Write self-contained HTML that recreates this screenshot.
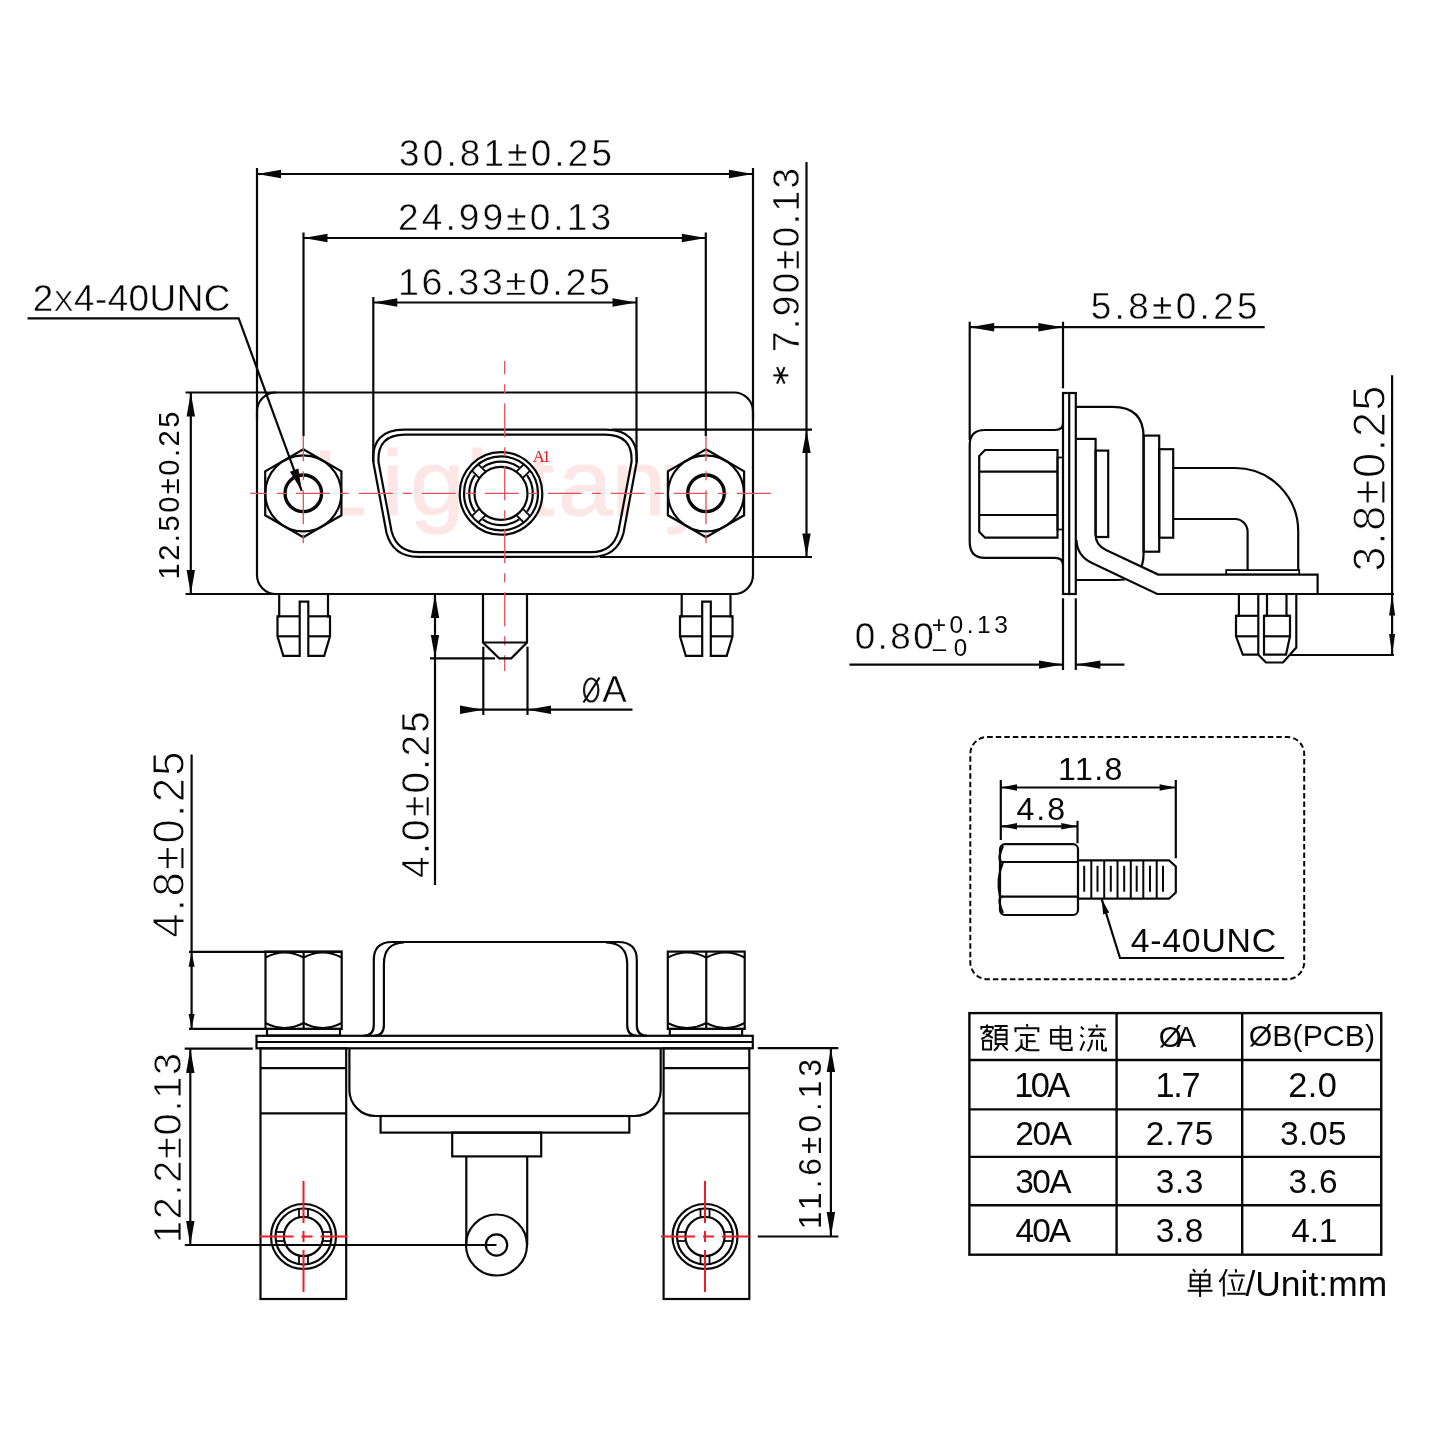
<!DOCTYPE html>
<html><head><meta charset="utf-8"><style>
html,body{margin:0;padding:0;background:#fff;}
svg{display:block;will-change:transform;}
</style></head><body>
<svg width="1440" height="1440" viewBox="0 0 1440 1440" stroke-linecap="butt">
<rect x="0" y="0" width="1440" height="1440" fill="#fff"/>
<text x="0" y="0" transform="translate(312.6 514.7) scale(1.05 1)" font-size="93" font-family="Liberation Sans" fill="#fde6e6" stroke="#fde6e6" stroke-width="1">L</text>
<text x="0" y="0" transform="translate(382 514.7) scale(1.05 1)" font-size="93" font-family="Liberation Sans" fill="#fde6e6" stroke="#fde6e6" stroke-width="1">i</text>
<text x="0" y="0" transform="translate(410 514.7) scale(1.05 1)" font-size="93" font-family="Liberation Sans" fill="#fde6e6" stroke="#fde6e6" stroke-width="1">g</text>
<text x="0" y="0" transform="translate(466 514.7) scale(1.05 1)" font-size="93" font-family="Liberation Sans" fill="#fde6e6" stroke="#fde6e6" stroke-width="1">h</text>
<text x="0" y="0" transform="translate(527 514.7) scale(1.05 1)" font-size="93" font-family="Liberation Sans" fill="#fde6e6" stroke="#fde6e6" stroke-width="1">t</text>
<text x="0" y="0" transform="translate(558 514.7) scale(1.05 1)" font-size="93" font-family="Liberation Sans" fill="#fde6e6" stroke="#fde6e6" stroke-width="1">a</text>
<text x="0" y="0" transform="translate(611.4 514.7) scale(1.05 1)" font-size="93" font-family="Liberation Sans" fill="#fde6e6" stroke="#fde6e6" stroke-width="1">n</text>
<text x="0" y="0" transform="translate(665 514.7) scale(1.05 1)" font-size="93" font-family="Liberation Sans" fill="#fde6e6" stroke="#fde6e6" stroke-width="1">y</text>
<line x1="257" y1="168" x2="257" y2="420" stroke="#080808" stroke-width="2.2" />
<line x1="753" y1="168" x2="753" y2="420" stroke="#080808" stroke-width="2.2" />
<line x1="257" y1="174" x2="753" y2="174" stroke="#080808" stroke-width="2.2" />
<polygon points="257,174 281,169.8 281,178.2" fill="#080808"/>
<polygon points="753,174 729,178.2 729,169.8" fill="#080808"/>
<text id="t3081" x="399" y="166" font-size="36.83" font-family="Liberation Sans" fill="#080808" font-weight="normal" textLength="213" lengthAdjust="spacing" stroke="#fff" stroke-width="0.45">30.81±0.25</text>
<line x1="303.5" y1="232.5" x2="303.5" y2="436" stroke="#080808" stroke-width="2.2" />
<line x1="705.8" y1="232.5" x2="705.8" y2="436" stroke="#080808" stroke-width="2.2" />
<line x1="303.5" y1="238" x2="705.8" y2="238" stroke="#080808" stroke-width="2.2" />
<polygon points="303.5,238 327.5,233.8 327.5,242.2" fill="#080808"/>
<polygon points="705.8,238 681.8,242.2 681.8,233.8" fill="#080808"/>
<text id="t2499" x="398" y="230" font-size="37" font-family="Liberation Sans" fill="#080808" font-weight="normal" textLength="213" lengthAdjust="spacing" stroke="#fff" stroke-width="0.46">24.99±0.13</text>
<line x1="373.3" y1="297" x2="373.3" y2="462" stroke="#080808" stroke-width="2.2" />
<line x1="636.5" y1="297" x2="636.5" y2="462" stroke="#080808" stroke-width="2.2" />
<line x1="373.3" y1="302.5" x2="636.5" y2="302.5" stroke="#080808" stroke-width="2.2" />
<polygon points="373.3,302.5 397.3,298.3 397.3,306.7" fill="#080808"/>
<polygon points="636.5,302.5 612.5,306.7 612.5,298.3" fill="#080808"/>
<text id="t1633" x="398" y="295" font-size="37.78" font-family="Liberation Sans" fill="#080808" font-weight="normal" textLength="212" lengthAdjust="spacing" stroke="#fff" stroke-width="0.52">16.33±0.25</text>
<text id="t2x4" x="32.8" y="310.7" font-size="36.83" font-family="Liberation Sans" fill="#080808" font-weight="normal" textLength="197.6" lengthAdjust="spacing" stroke="#fff" stroke-width="0.45">2<tspan font-size="80%">X</tspan>4-40UNC</text>
<rect x="257" y="392.5" width="496" height="201.5" rx="19" stroke="#080808" stroke-width="2.2" fill="none" />
<line x1="185.5" y1="392.5" x2="276" y2="392.5" stroke="#080808" stroke-width="2.2" />
<line x1="185.5" y1="594" x2="276" y2="594" stroke="#080808" stroke-width="2.2" />
<line x1="190.8" y1="392.5" x2="190.8" y2="594" stroke="#080808" stroke-width="2.2" />
<polygon points="190.8,392.5 195,416.5 186.6,416.5" fill="#080808"/>
<polygon points="190.8,594 186.6,570 195,570" fill="#080808"/>
<text id="t1250" x="179" y="579.5" font-size="29.13" font-family="Liberation Sans" fill="#080808" font-weight="normal" textLength="168" lengthAdjust="spacing" transform="rotate(-90 179 579.5)">12.50±0.25</text>
<path d="M373.3,462 Q371,430 404,429.7 H606 Q639,430 636.7,462 L623.5,533 Q617,556.8 592,556.8 H418 Q393,556.8 386.5,533 Z" stroke="#080808" stroke-width="2.2" fill="none" />
<path d="M378.5,462 Q377,434.6 405,434.6 H605 Q633,434.6 631.5,462 L618.5,531 Q613,552.2 591,552.2 H419 Q397,552.2 391.5,531 Z" stroke="#080808" stroke-width="2.2" fill="none" />
<line x1="612" y1="429.7" x2="812" y2="429.7" stroke="#080808" stroke-width="2.2" />
<line x1="600" y1="557" x2="812" y2="557" stroke="#080808" stroke-width="2.2" />
<line x1="806.5" y1="162" x2="806.5" y2="557" stroke="#080808" stroke-width="2.2" />
<polygon points="806.5,430 810.7,453 802.3,453" fill="#080808"/>
<polygon points="806.5,556.5 802.3,533.5 810.7,533.5" fill="#080808"/>
<text id="t790" x="798.5" y="352" font-size="36.84" font-family="Liberation Sans" fill="#080808" font-weight="normal" textLength="184" lengthAdjust="spacing" transform="rotate(-90 798.5 352)" stroke="#fff" stroke-width="0.45">7.90±0.13</text>
<line x1="773.3" y1="375.4" x2="788.3" y2="375.4" stroke="#080808" stroke-width="2" />
<line x1="777.05" y1="367.09" x2="784.55" y2="383.71" stroke="#080808" stroke-width="2" />
<line x1="784.55" y1="367.09" x2="777.05" y2="383.71" stroke="#080808" stroke-width="2" />
<polygon points="303.3,449.3 341.41,471.3 341.41,515.3 303.3,537.3 265.19,515.3 265.19,471.3" stroke="#080808" stroke-width="2.2" fill="#fff"/>
<circle cx="303.3" cy="493.3" r="38" stroke="#080808" stroke-width="2.2" fill="none" />
<circle cx="303.3" cy="493.3" r="18.3" stroke="#080808" stroke-width="3.4" fill="none" />
<polygon points="706,449.3 744.11,471.3 744.11,515.3 706,537.3 667.89,515.3 667.89,471.3" stroke="#080808" stroke-width="2.2" fill="#fff"/>
<circle cx="706" cy="493.3" r="38" stroke="#080808" stroke-width="2.2" fill="none" />
<circle cx="706" cy="493.3" r="18.3" stroke="#080808" stroke-width="3.4" fill="none" />
<path d="M27.5,318.3 H238.7 L301.7,490.8" stroke="#080808" stroke-width="2.2" fill="none" />
<polygon points="301.7,490.8 289.92,471.67 298.38,468.59" fill="#080808"/>
<circle cx="501" cy="493.4" r="41.3" stroke="#080808" stroke-width="2.2" fill="#fff" />
<circle cx="501" cy="493.4" r="37" stroke="#080808" stroke-width="2.2" fill="none" />
<circle cx="501" cy="493.4" r="26.5" stroke="#080808" stroke-width="2.2" fill="none" />
<path d="M527.05,475.16 A31.8,31.8 0 0 1 527.05,511.64" stroke="#080808" stroke-width="2.2" fill="none" />
<path d="M519.24,519.45 A31.8,31.8 0 0 1 482.76,519.45" stroke="#080808" stroke-width="2.2" fill="none" />
<path d="M474.95,511.64 A31.8,31.8 0 0 1 474.95,475.16" stroke="#080808" stroke-width="2.2" fill="none" />
<path d="M482.76,467.35 A31.8,31.8 0 0 1 519.24,467.35" stroke="#080808" stroke-width="2.2" fill="none" />
<line x1="522.92" y1="508.96" x2="530.34" y2="516.38" stroke="#080808" stroke-width="1.8" />
<line x1="516.56" y1="515.32" x2="523.98" y2="522.74" stroke="#080808" stroke-width="1.8" />
<line x1="485.44" y1="515.32" x2="478.02" y2="522.74" stroke="#080808" stroke-width="1.8" />
<line x1="479.08" y1="508.96" x2="471.66" y2="516.38" stroke="#080808" stroke-width="1.8" />
<line x1="479.08" y1="477.84" x2="471.66" y2="470.42" stroke="#080808" stroke-width="1.8" />
<line x1="485.44" y1="471.48" x2="478.02" y2="464.06" stroke="#080808" stroke-width="1.8" />
<line x1="516.56" y1="471.48" x2="523.98" y2="464.06" stroke="#080808" stroke-width="1.8" />
<line x1="522.92" y1="477.84" x2="530.34" y2="470.42" stroke="#080808" stroke-width="1.8" />
<text id="tA1" x="532.8" y="462.4" font-size="16.79" font-family="Liberation Serif" fill="#e8202a" font-weight="normal" textLength="17.8" lengthAdjust="spacing">A1</text>
<line x1="250" y1="493.3" x2="776" y2="493.3" stroke="#e2525e" stroke-width="1.3" stroke-dasharray="34,10,9,10" stroke-dashoffset="-45.80"/>
<line x1="303.3" y1="436" x2="303.3" y2="552" stroke="#e2525e" stroke-width="1.3" stroke-dasharray="34,10,9,10" stroke-dashoffset="-54.20"/>
<line x1="706" y1="436" x2="706" y2="552" stroke="#e2525e" stroke-width="1.3" stroke-dasharray="34,10,9,10" stroke-dashoffset="-54.20"/>
<line x1="504.7" y1="361" x2="504.7" y2="671" stroke="#e2525e" stroke-width="1.3" stroke-dasharray="34,10,9,10" stroke-dashoffset="-42.20"/>
<path d="M279.2,594 V616.3 H277.5 V636.3 L283.3,655.8 H299.7 V601.7 H308.3 V655.8 H324.2 L330,636.3 V616.3 H328 V594" stroke="#080808" stroke-width="2.2" fill="none" />
<line x1="277.5" y1="616.3" x2="299.7" y2="616.3" stroke="#080808" stroke-width="2.2" />
<line x1="308.3" y1="616.3" x2="330" y2="616.3" stroke="#080808" stroke-width="2.2" />
<line x1="277.5" y1="636.3" x2="299.7" y2="636.3" stroke="#080808" stroke-width="2.2" />
<line x1="308.3" y1="636.3" x2="330" y2="636.3" stroke="#080808" stroke-width="2.2" />
<path d="M681.7,594 V616.3 H680 V636.3 L685.8,655.8 H702.2 V601.7 H710.8 V655.8 H726.7 L732.5,636.3 V616.3 H730.5 V594" stroke="#080808" stroke-width="2.2" fill="none" />
<line x1="680" y1="616.3" x2="702.2" y2="616.3" stroke="#080808" stroke-width="2.2" />
<line x1="710.8" y1="616.3" x2="732.5" y2="616.3" stroke="#080808" stroke-width="2.2" />
<line x1="680" y1="636.3" x2="702.2" y2="636.3" stroke="#080808" stroke-width="2.2" />
<line x1="710.8" y1="636.3" x2="732.5" y2="636.3" stroke="#080808" stroke-width="2.2" />
<path d="M483,594 V642.5 L499.2,658.3 H511.3 L527,642.5 V594" stroke="#080808" stroke-width="2.2" fill="none" />
<line x1="483" y1="642.5" x2="527" y2="642.5" stroke="#080808" stroke-width="2.2" />
<line x1="435" y1="594" x2="435" y2="885" stroke="#080808" stroke-width="2.2" />
<polygon points="435,594.5 439.2,618 430.8,618" fill="#080808"/>
<polygon points="435,657.8 430.8,635 439.2,635" fill="#080808"/>
<line x1="430" y1="658.3" x2="495" y2="658.3" stroke="#080808" stroke-width="2.2" />
<text id="t40" x="429.1" y="877.9" font-size="38.57" font-family="Liberation Sans" fill="#080808" font-weight="normal" textLength="166.6" lengthAdjust="spacing" transform="rotate(-90 429.1 877.9)" stroke="#fff" stroke-width="0.58">4.0±0.25</text>
<line x1="483.3" y1="646.7" x2="483.3" y2="715" stroke="#080808" stroke-width="2.2" />
<line x1="527.5" y1="646.7" x2="527.5" y2="715" stroke="#080808" stroke-width="2.2" />
<line x1="460" y1="709.7" x2="632.5" y2="709.7" stroke="#080808" stroke-width="2.2" />
<polygon points="483.3,709.7 460,713.9 460,705.5" fill="#080808"/>
<polygon points="527.5,709.7 551,705.5 551,713.9" fill="#080808"/>
<text id="tphiA" x="602.3" y="701.5" font-size="36.83" font-family="Liberation Sans" fill="#080808" font-weight="normal" stroke="#fff" stroke-width="0.45">A</text>
<ellipse cx="591.2" cy="690" rx="7.2" ry="11.5" stroke="#1a1a1a" stroke-width="2.2" fill="none"/>
<line x1="583.5" y1="702.5" x2="599.5" y2="677.5" stroke="#080808" stroke-width="2.2" />
<line x1="969.7" y1="321.7" x2="969.7" y2="440" stroke="#080808" stroke-width="2.2" />
<line x1="969.7" y1="327.2" x2="1264.7" y2="327.2" stroke="#080808" stroke-width="2.2" />
<polygon points="969.7,327.2 994.2,323 994.2,331.4" fill="#080808"/>
<polygon points="1062.8,327.2 1038.3,331.4 1038.3,323" fill="#080808"/>
<line x1="1063" y1="321.7" x2="1063" y2="388.3" stroke="#080808" stroke-width="2.2" />
<text id="t58" x="1090.7" y="319.2" font-size="36.83" font-family="Liberation Sans" fill="#080808" font-weight="normal" textLength="166.8" lengthAdjust="spacing" stroke="#fff" stroke-width="0.45">5.8±0.25</text>
<rect x="1063" y="393" width="12.8" height="201" rx="0" stroke="#080808" stroke-width="2.2" fill="none" />
<line x1="1069.2" y1="393" x2="1069.2" y2="594" stroke="#080808" stroke-width="2.2" />
<path d="M1063,423 Q1063,430 1055,430 H985 Q969.7,430 969.7,445 V542 Q969.7,557.9 985,557.9 H1055 Q1063,557.9 1063,565" stroke="#080808" stroke-width="2.2" fill="none" />
<path d="M979.2,456 L985,450 H1057.5 V537.7 H985 L979.2,531.7 Z" stroke="#080808" stroke-width="2.2" fill="none" />
<line x1="979.2" y1="471.7" x2="1057.5" y2="471.7" stroke="#080808" stroke-width="2.2" />
<line x1="979.2" y1="515" x2="1057.5" y2="515" stroke="#080808" stroke-width="2.2" />
<rect x="1057.5" y="457.5" width="5.5" height="72" rx="0" stroke="#080808" stroke-width="1.8" fill="none" />
<path d="M1075.8,406.8 H1112.5 Q1143.6,406.8 1143.6,437 V553.6 Q1143.6,580 1118,580 H1076" stroke="#080808" stroke-width="2.2" fill="none" />
<path d="M1076.5,438.9 H1095.6 V537" stroke="#080808" stroke-width="2.2" fill="none" />
<rect x="1095.6" y="450.6" width="12.6" height="86.4" rx="0" stroke="#080808" stroke-width="2.2" fill="none" />
<rect x="1143.6" y="435.6" width="15.6" height="116.1" rx="0" stroke="#080808" stroke-width="2.2" fill="none" />
<rect x="1159.2" y="449.2" width="14" height="88.5" rx="0" stroke="#080808" stroke-width="2.2" fill="none" />
<path d="M1173.2,468 H1235 A63.2,63.2 0 0 1 1298.2,531.2 V570" stroke="#080808" stroke-width="2.2" fill="none" />
<path d="M1173.2,519 H1235 A12.6,12.6 0 0 1 1247.6,531.6 V570" stroke="#080808" stroke-width="2.2" fill="none" />
<rect x="1226.2" y="570.1" width="73" height="4.5" rx="0" stroke="#080808" stroke-width="1.8" fill="none" />
<path d="M1076.5,540 Q1077,556 1092,563 L1157.2,594 H1317.6 V574.6 H1158.2 L1106,550 Q1095.6,545 1095.6,535" stroke="#080808" stroke-width="2.2" fill="#fff" />
<path d="M1238.9,594 V615.8 H1236 V636.3 L1242.8,654.7 H1258.3 V594" stroke="#080808" stroke-width="2.2" fill="none" />
<line x1="1236" y1="615.8" x2="1258.3" y2="615.8" stroke="#080808" stroke-width="2.2" />
<line x1="1236" y1="636.3" x2="1258.3" y2="636.3" stroke="#080808" stroke-width="2.2" />
<path d="M1267,594 V615.8 H1264 V636.3 V654.7 H1286 L1290,636.3 V615.8 H1286.5 V594" stroke="#080808" stroke-width="2.2" fill="none" />
<line x1="1264" y1="615.8" x2="1290" y2="615.8" stroke="#080808" stroke-width="2.2" />
<line x1="1264" y1="636.3" x2="1290" y2="636.3" stroke="#080808" stroke-width="2.2" />
<path d="M1258.3,654.7 L1266,662.5 H1283 L1296.3,647.5 V594" stroke="#080808" stroke-width="2.2" fill="none" />
<line x1="1317.6" y1="594" x2="1394" y2="594" stroke="#080808" stroke-width="2.2" />
<line x1="1289.7" y1="655" x2="1394" y2="655" stroke="#080808" stroke-width="2.2" />
<line x1="1392.1" y1="375.2" x2="1392.1" y2="655" stroke="#080808" stroke-width="2.2" />
<polygon points="1392.1,594 1395.1,615.4 1389.1,615.4" fill="#080808"/>
<polygon points="1392.1,655 1389.1,633.9 1395.1,633.9" fill="#080808"/>
<text id="t38" x="1385.1" y="571.8" font-size="45.38" font-family="Liberation Sans" fill="#080808" font-weight="normal" textLength="186.4" lengthAdjust="spacing" transform="rotate(-90 1385.1 571.8)" stroke="#fff" stroke-width="1.09">3.8±0.25</text>
<line x1="1063" y1="598.3" x2="1063" y2="670" stroke="#080808" stroke-width="2.2" />
<line x1="1075.8" y1="598.3" x2="1075.8" y2="670" stroke="#080808" stroke-width="2.2" />
<line x1="849.4" y1="664.6" x2="1063" y2="664.6" stroke="#080808" stroke-width="2.2" />
<polygon points="1063,664.6 1039,668.8 1039,660.4" fill="#080808"/>
<line x1="1075.8" y1="664.6" x2="1124.4" y2="664.6" stroke="#080808" stroke-width="2.2" />
<polygon points="1075.8,664.6 1100.4,660.4 1100.4,668.8" fill="#080808"/>
<text id="t080" x="854.7" y="648.6" font-size="36.83" font-family="Liberation Sans" fill="#080808" font-weight="normal" textLength="79" lengthAdjust="spacing" stroke="#fff" stroke-width="0.45">0.80</text>
<text id="tp013" x="931.75" y="633.3" font-size="24.59" font-family="Liberation Sans" fill="#080808" font-weight="normal" textLength="76.1" lengthAdjust="spacing">+0.13</text>
<text id="tm0" x="932.75" y="656.4" font-size="24.14" font-family="Liberation Sans" fill="#080808" font-weight="normal" textLength="34.5" lengthAdjust="spacing">–0</text>
<rect x="970.3" y="737" width="333.9" height="242.2" rx="17" stroke="#080808" stroke-width="2" fill="none" stroke-dasharray="5.5,3"/>
<line x1="1000.8" y1="780" x2="1000.8" y2="840" stroke="#080808" stroke-width="2.2" />
<line x1="1175.8" y1="780" x2="1175.8" y2="858.3" stroke="#080808" stroke-width="2.2" />
<line x1="1077.5" y1="820.8" x2="1077.5" y2="843.3" stroke="#080808" stroke-width="2.2" />
<line x1="1000.8" y1="787.5" x2="1175.8" y2="787.5" stroke="#080808" stroke-width="2.2" />
<polygon points="1000.8,787.5 1017,784.3 1017,790.7" fill="#080808"/>
<polygon points="1175.8,787.5 1159.6,790.7 1159.6,784.3" fill="#080808"/>
<line x1="1000.8" y1="826.3" x2="1077.5" y2="826.3" stroke="#080808" stroke-width="2.2" />
<polygon points="1000.8,826.3 1017,823.1 1017,829.5" fill="#080808"/>
<polygon points="1077.5,826.3 1061.3,829.5 1061.3,823.1" fill="#080808"/>
<text id="t118" x="1058" y="779.5" font-size="32.09" font-family="Liberation Sans" fill="#080808" font-weight="normal" textLength="64.4" lengthAdjust="spacing">11.8</text>
<text id="t48s" x="1016.5" y="820.3" font-size="32.09" font-family="Liberation Sans" fill="#080808" font-weight="normal" textLength="48.6" lengthAdjust="spacing">4.8</text>
<rect x="1000" y="844.2" width="78" height="70.8" rx="5" stroke="#080808" stroke-width="2.2" fill="none" />
<line x1="1000" y1="862" x2="1078" y2="862" stroke="#080808" stroke-width="2.2" />
<line x1="1000" y1="896.7" x2="1078" y2="896.7" stroke="#080808" stroke-width="2.2" />
<path d="M1003,846 Q996,862 1003,862 Q996,879 1000,896.7 M1003,913 Q996,897 1003,896.7" stroke="#080808" stroke-width="2.2" fill="none" />
<path d="M1078,860.3 H1169 L1175.8,866.5 V892.5 L1169,898.7 H1078" stroke="#080808" stroke-width="2.2" fill="none" />
<line x1="1091.3" y1="860.3" x2="1091.3" y2="898.7" stroke="#080808" stroke-width="2" />
<line x1="1104.2" y1="860.3" x2="1104.2" y2="898.7" stroke="#080808" stroke-width="2" />
<line x1="1117.5" y1="860.3" x2="1117.5" y2="898.7" stroke="#080808" stroke-width="2" />
<line x1="1130.8" y1="860.3" x2="1130.8" y2="898.7" stroke="#080808" stroke-width="2" />
<line x1="1143.3" y1="860.3" x2="1143.3" y2="898.7" stroke="#080808" stroke-width="2" />
<line x1="1156.7" y1="860.3" x2="1156.7" y2="898.7" stroke="#080808" stroke-width="2" />
<line x1="1084.2" y1="865.8" x2="1084.2" y2="891.7" stroke="#080808" stroke-width="2" />
<line x1="1097.5" y1="865.8" x2="1097.5" y2="891.7" stroke="#080808" stroke-width="2" />
<line x1="1110.8" y1="865.8" x2="1110.8" y2="891.7" stroke="#080808" stroke-width="2" />
<line x1="1124.2" y1="865.8" x2="1124.2" y2="891.7" stroke="#080808" stroke-width="2" />
<line x1="1136.7" y1="865.8" x2="1136.7" y2="891.7" stroke="#080808" stroke-width="2" />
<line x1="1150" y1="865.8" x2="1150" y2="891.7" stroke="#080808" stroke-width="2" />
<line x1="1163" y1="865.8" x2="1163" y2="891.7" stroke="#080808" stroke-width="2" />
<path d="M1101.7,899.2 L1120,958 H1284.2" stroke="#080808" stroke-width="2.2" fill="none" />
<polygon points="1101.7,899.2 1109.25,912.54 1103.15,914.46" fill="#080808"/>
<text id="t440" x="1130.7" y="951.5" font-size="33.75" font-family="Liberation Sans" fill="#080808" font-weight="normal" textLength="145.4" lengthAdjust="spacing">4-40UNC</text>
<rect x="969.4" y="1013.1" width="411.85" height="241.6" rx="0" stroke="#080808" stroke-width="2.4" fill="none" />
<line x1="969.4" y1="1060" x2="1381.25" y2="1060" stroke="#080808" stroke-width="2.4" />
<line x1="969.4" y1="1109.4" x2="1381.25" y2="1109.4" stroke="#080808" stroke-width="2.4" />
<line x1="969.4" y1="1156.9" x2="1381.25" y2="1156.9" stroke="#080808" stroke-width="2.4" />
<line x1="969.4" y1="1205.3" x2="1381.25" y2="1205.3" stroke="#080808" stroke-width="2.4" />
<line x1="1116.6" y1="1013.1" x2="1116.6" y2="1254.7" stroke="#080808" stroke-width="2.4" />
<line x1="1242.2" y1="1013.1" x2="1242.2" y2="1254.7" stroke="#080808" stroke-width="2.4" />
<text id="r0a" x="1014.2" y="1097.1" font-size="34.35" font-family="Liberation Sans" fill="#080808" font-weight="normal" textLength="56" lengthAdjust="spacing">10A</text>
<text id="r0b" x="1155.4" y="1097.1" font-size="34.35" font-family="Liberation Sans" fill="#080808" font-weight="normal" textLength="45.2" lengthAdjust="spacing">1.7</text>
<text id="r0c" x="1288.3" y="1097.1" font-size="34.35" font-family="Liberation Sans" fill="#080808" font-weight="normal" textLength="48.6" lengthAdjust="spacing">2.0</text>
<text id="r1a" x="1015.2" y="1145" font-size="33.4" font-family="Liberation Sans" fill="#080808" font-weight="normal" textLength="56.8" lengthAdjust="spacing">20A</text>
<text id="r1b" x="1145.8" y="1145" font-size="33.4" font-family="Liberation Sans" fill="#080808" font-weight="normal" textLength="67.6" lengthAdjust="spacing">2.75</text>
<text id="r1c" x="1280" y="1145" font-size="33.4" font-family="Liberation Sans" fill="#080808" font-weight="normal" textLength="66.6" lengthAdjust="spacing">3.05</text>
<text id="r2a" x="1015.2" y="1192.5" font-size="33.4" font-family="Liberation Sans" fill="#080808" font-weight="normal" textLength="56.4" lengthAdjust="spacing">30A</text>
<text id="r2b" x="1155.8" y="1192.5" font-size="33.4" font-family="Liberation Sans" fill="#080808" font-weight="normal" textLength="47.6" lengthAdjust="spacing">3.3</text>
<text id="r2c" x="1288.6" y="1192.5" font-size="33.4" font-family="Liberation Sans" fill="#080808" font-weight="normal" textLength="49" lengthAdjust="spacing">3.6</text>
<text id="r3a" x="1015.6" y="1242" font-size="33.4" font-family="Liberation Sans" fill="#080808" font-weight="normal" textLength="55.4" lengthAdjust="spacing">40A</text>
<text id="r3b" x="1155.8" y="1242" font-size="33.4" font-family="Liberation Sans" fill="#080808" font-weight="normal" textLength="47.6" lengthAdjust="spacing">3.8</text>
<text id="r3c" x="1291.2" y="1242" font-size="33.4" font-family="Liberation Sans" fill="#080808" font-weight="normal" textLength="46.2" lengthAdjust="spacing">4.1</text>
<text id="hA" x="1158.8" y="1047" font-size="29.66" font-family="Liberation Sans" fill="#080808" font-weight="normal" textLength="37.2" lengthAdjust="spacing">ØA</text>
<text id="hB" x="1248.8" y="1045.5" font-size="30.25" font-family="Liberation Sans" fill="#080808" font-weight="normal" textLength="126.2" lengthAdjust="spacing">ØB(PCB)</text>
<text id="unit" x="1245.4" y="1296.4" font-size="35.4" font-family="Liberation Sans" fill="#080808" font-weight="normal" textLength="141.8" lengthAdjust="spacing">/Unit:mm</text>
<path d="M24,2 L28,10 M6,20 V11 H46 V20 M28,16 L12,36 M20,26 H40 Q30,44 6,54 M22,36 L46,50 M12,60 H40 V92 H12 Z M52,7 H98 M76,7 L70,22 M56,22 H94 V72 H56 Z M56,39 H94 M56,55 H94 M68,72 Q62,88 50,96 M80,76 L98,95" transform="translate(979.6 1024) scale(0.2870 0.2780)" stroke="#080808" stroke-width="2.0" fill="none" stroke-linecap="butt" stroke-linejoin="miter" vector-effect="non-scaling-stroke"/>
<path d="M50,0 L52,10 M8,30 V15 H92 V30 M24,40 H78 M50,40 V86 M50,62 H82 M30,55 V80 M33,72 Q24,90 8,98 M30,82 Q42,94 62,94 H96" transform="translate(1013.3 1024) scale(0.2720 0.2780)" stroke="#080808" stroke-width="2.0" fill="none" stroke-linecap="butt" stroke-linejoin="miter" vector-effect="non-scaling-stroke"/>
<path d="M12,20 H86 V70 H12 Z M12,45 H86 M49,3 V84 Q49,94 62,94 H92 V82" transform="translate(1048 1024.5) scale(0.2570 0.2700)" stroke="#080808" stroke-width="2.0" fill="none" stroke-linecap="butt" stroke-linejoin="miter" vector-effect="non-scaling-stroke"/>
<path d="M6,8 L16,18 M4,38 L14,46 M4,96 L18,62 M62,0 L64,10 M32,18 H96 M54,22 L40,42 L84,40 M74,30 L90,46 M46,56 Q44,84 30,98 M64,56 V94 M82,56 V88 Q82,95 90,95 H96 V84" transform="translate(1079.3 1024.5) scale(0.2770 0.2730)" stroke="#080808" stroke-width="2.0" fill="none" stroke-linecap="butt" stroke-linejoin="miter" vector-effect="non-scaling-stroke"/>
<path d="M24,2 L32,13 M74,2 L64,13 M15,22 H85 V62 H15 Z M15,42 H85 M50,22 V100 M4,78 H96" transform="translate(1186.6 1268.6) scale(0.2690 0.2840)" stroke="#080808" stroke-width="2.0" fill="none" stroke-linecap="butt" stroke-linejoin="miter" vector-effect="non-scaling-stroke"/>
<path d="M30,2 Q22,28 4,48 M20,30 V100 M62,2 L64,14 M36,25 H94 M48,38 L58,80 M86,36 L72,80 M32,90 H98" transform="translate(1218.2 1268.6) scale(0.2820 0.2790)" stroke="#080808" stroke-width="2.0" fill="none" stroke-linecap="butt" stroke-linejoin="miter" vector-effect="non-scaling-stroke"/>
<line x1="191.6" y1="754.4" x2="191.6" y2="1028.9" stroke="#080808" stroke-width="2.2" />
<polygon points="191.6,951.8 194.6,966.7 188.6,966.7" fill="#080808"/>
<polygon points="191.6,1028.9 188.6,1014 194.6,1014" fill="#080808"/>
<line x1="189" y1="951.8" x2="341.8" y2="951.8" stroke="#080808" stroke-width="2.2" />
<line x1="189" y1="1028.9" x2="265.6" y2="1028.9" stroke="#080808" stroke-width="2.2" />
<text id="t48" x="184.5" y="937.8" font-size="43.67" font-family="Liberation Sans" fill="#080808" font-weight="normal" textLength="186.4" lengthAdjust="spacing" transform="rotate(-90 184.5 937.8)" stroke="#fff" stroke-width="0.96">4.8±0.25</text>
<rect x="265.5" y="951.6" width="76.2" height="77.3" rx="0" stroke="#080808" stroke-width="2.2" fill="none" />
<line x1="303.6" y1="951.6" x2="303.6" y2="1028.9" stroke="#080808" stroke-width="2.2" />
<path d="M265.5,957.5 Q284.55,947.5 303.6,957.5" stroke="#080808" stroke-width="2" fill="none" />
<path d="M265.5,1023 Q284.55,1033 303.6,1023" stroke="#080808" stroke-width="2" fill="none" />
<path d="M303.6,957.5 Q322.65,947.5 341.7,957.5" stroke="#080808" stroke-width="2" fill="none" />
<path d="M303.6,1023 Q322.65,1033 341.7,1023" stroke="#080808" stroke-width="2" fill="none" />
<rect x="667.8" y="951.6" width="76.9" height="77.3" rx="0" stroke="#080808" stroke-width="2.2" fill="none" />
<line x1="706.25" y1="951.6" x2="706.25" y2="1028.9" stroke="#080808" stroke-width="2.2" />
<path d="M667.8,957.5 Q687.02,947.5 706.25,957.5" stroke="#080808" stroke-width="2" fill="none" />
<path d="M667.8,1023 Q687.02,1033 706.25,1023" stroke="#080808" stroke-width="2" fill="none" />
<path d="M706.25,957.5 Q725.48,947.5 744.7,957.5" stroke="#080808" stroke-width="2" fill="none" />
<path d="M706.25,1023 Q725.48,1033 744.7,1023" stroke="#080808" stroke-width="2" fill="none" />
<rect x="267" y="1028.9" width="73" height="6.6" rx="0" stroke="#080808" stroke-width="2.2" fill="none" />
<rect x="669.8" y="1028.9" width="72.3" height="6.6" rx="0" stroke="#080808" stroke-width="2.2" fill="none" />
<rect x="256.5" y="1035.8" width="496.3" height="12.5" rx="0" stroke="#080808" stroke-width="2.2" fill="none" />
<line x1="256.5" y1="1042" x2="752.8" y2="1042" stroke="#080808" stroke-width="2.2" />
<path d="M363.5,1035.8 Q373.8,1035.8 373.8,1025 V960 Q373.8,942 392,942 H618 Q636.8,942 636.8,960 V1025 Q636.8,1035.8 647,1035.8" stroke="#080808" stroke-width="2.2" fill="none" />
<path d="M374,1035.8 Q383.9,1035.8 383.9,1025 V964 Q383.9,943 404,942.5" stroke="#080808" stroke-width="2.2" fill="none" />
<path d="M606,942.5 Q627.2,943 627.2,964 V1025 Q627.2,1035.8 637,1035.8" stroke="#080808" stroke-width="2.2" fill="none" />
<path d="M349.4,1048.3 V1090 A26,26 0 0 0 375.4,1116 H634.7 A26,26 0 0 0 660.7,1090 V1048.3" stroke="#080808" stroke-width="2.2" fill="none" />
<rect x="380.6" y="1116" width="248.7" height="16.6" rx="0" stroke="#080808" stroke-width="2.2" fill="none" />
<rect x="452.2" y="1132.6" width="89" height="23.8" rx="0" stroke="#080808" stroke-width="2.2" fill="none" />
<line x1="466.3" y1="1156.4" x2="466.3" y2="1245" stroke="#080808" stroke-width="2.2" />
<line x1="527.2" y1="1156.4" x2="527.2" y2="1245" stroke="#080808" stroke-width="2.2" />
<circle cx="496.5" cy="1245" r="30.5" stroke="#080808" stroke-width="2.2" fill="none" />
<circle cx="496.5" cy="1245" r="10.7" stroke="#080808" stroke-width="2.2" fill="none" />
<line x1="184.7" y1="1245" x2="496.5" y2="1245" stroke="#080808" stroke-width="2.2" />
<rect x="260.5" y="1048.3" width="85.7" height="250.7" rx="0" stroke="#080808" stroke-width="2.2" fill="none" />
<line x1="260.5" y1="1068.2" x2="346.2" y2="1068.2" stroke="#080808" stroke-width="2.2" />
<line x1="260.5" y1="1113.3" x2="346.2" y2="1113.3" stroke="#080808" stroke-width="2.2" />
<rect x="663.6" y="1048.3" width="85.7" height="250.7" rx="0" stroke="#080808" stroke-width="2.2" fill="none" />
<line x1="663.6" y1="1068.2" x2="749.3" y2="1068.2" stroke="#080808" stroke-width="2.2" />
<line x1="663.6" y1="1113.3" x2="749.3" y2="1113.3" stroke="#080808" stroke-width="2.2" />
<circle cx="303.5" cy="1236.5" r="32.5" stroke="#080808" stroke-width="2.2" fill="none" />
<circle cx="303.5" cy="1236.5" r="28" stroke="#080808" stroke-width="2.2" fill="none" />
<circle cx="303.5" cy="1236.5" r="19.6" stroke="#080808" stroke-width="2.2" fill="none" />
<line x1="323.1" y1="1232" x2="331.5" y2="1232" stroke="#080808" stroke-width="1.8" />
<line x1="323.1" y1="1241" x2="331.5" y2="1241" stroke="#080808" stroke-width="1.8" />
<line x1="308" y1="1256.1" x2="308" y2="1264.5" stroke="#080808" stroke-width="1.8" />
<line x1="299" y1="1256.1" x2="299" y2="1264.5" stroke="#080808" stroke-width="1.8" />
<line x1="283.9" y1="1241" x2="275.5" y2="1241" stroke="#080808" stroke-width="1.8" />
<line x1="283.9" y1="1232" x2="275.5" y2="1232" stroke="#080808" stroke-width="1.8" />
<line x1="299" y1="1216.9" x2="299" y2="1208.5" stroke="#080808" stroke-width="1.8" />
<line x1="308" y1="1216.9" x2="308" y2="1208.5" stroke="#080808" stroke-width="1.8" />
<line x1="259.5" y1="1236.5" x2="347.5" y2="1236.5" stroke="#e8202a" stroke-width="2" stroke-dasharray="34,8,11,8,34"/>
<line x1="303.5" y1="1181" x2="303.5" y2="1292" stroke="#e8202a" stroke-width="2" stroke-dasharray="42,8,11,8,42"/>
<circle cx="705" cy="1236.5" r="32.5" stroke="#080808" stroke-width="2.2" fill="none" />
<circle cx="705" cy="1236.5" r="28" stroke="#080808" stroke-width="2.2" fill="none" />
<circle cx="705" cy="1236.5" r="19.6" stroke="#080808" stroke-width="2.2" fill="none" />
<line x1="724.6" y1="1232" x2="733" y2="1232" stroke="#080808" stroke-width="1.8" />
<line x1="724.6" y1="1241" x2="733" y2="1241" stroke="#080808" stroke-width="1.8" />
<line x1="709.5" y1="1256.1" x2="709.5" y2="1264.5" stroke="#080808" stroke-width="1.8" />
<line x1="700.5" y1="1256.1" x2="700.5" y2="1264.5" stroke="#080808" stroke-width="1.8" />
<line x1="685.4" y1="1241" x2="677" y2="1241" stroke="#080808" stroke-width="1.8" />
<line x1="685.4" y1="1232" x2="677" y2="1232" stroke="#080808" stroke-width="1.8" />
<line x1="700.5" y1="1216.9" x2="700.5" y2="1208.5" stroke="#080808" stroke-width="1.8" />
<line x1="709.5" y1="1216.9" x2="709.5" y2="1208.5" stroke="#080808" stroke-width="1.8" />
<line x1="661" y1="1236.5" x2="749" y2="1236.5" stroke="#e8202a" stroke-width="2" stroke-dasharray="34,8,11,8,34"/>
<line x1="705" y1="1181" x2="705" y2="1292" stroke="#e8202a" stroke-width="2" stroke-dasharray="42,8,11,8,42"/>
<line x1="184.7" y1="1048.6" x2="252.8" y2="1048.6" stroke="#080808" stroke-width="2.2" />
<line x1="190.3" y1="1048.6" x2="190.3" y2="1245.1" stroke="#080808" stroke-width="2.2" />
<polygon points="190.3,1048.6 194.5,1073 186.1,1073" fill="#080808"/>
<polygon points="190.3,1245.1 186.1,1221 194.5,1221" fill="#080808"/>
<text id="t122" x="181.4" y="1243" font-size="39.61" font-family="Liberation Sans" fill="#080808" font-weight="normal" textLength="190" lengthAdjust="spacing" transform="rotate(-90 181.4 1243)" stroke="#fff" stroke-width="0.66">12.2±0.13</text>
<line x1="757.8" y1="1048.2" x2="838.4" y2="1048.2" stroke="#080808" stroke-width="2.2" />
<line x1="757.8" y1="1236.5" x2="838.4" y2="1236.5" stroke="#080808" stroke-width="2.2" />
<line x1="830.9" y1="1048.2" x2="830.9" y2="1236.5" stroke="#080808" stroke-width="2.2" />
<polygon points="830.9,1048.2 835.1,1072 826.7,1072" fill="#080808"/>
<polygon points="830.9,1236.5 826.7,1212 835.1,1212" fill="#080808"/>
<text id="t116" x="820.6" y="1229.2" font-size="31.47" font-family="Liberation Sans" fill="#080808" font-weight="normal" textLength="170.2" lengthAdjust="spacing" transform="rotate(-90 820.6 1229.2)" stroke="#fff" stroke-width="0.05">11.6±0.13</text>
</svg>
</body></html>
